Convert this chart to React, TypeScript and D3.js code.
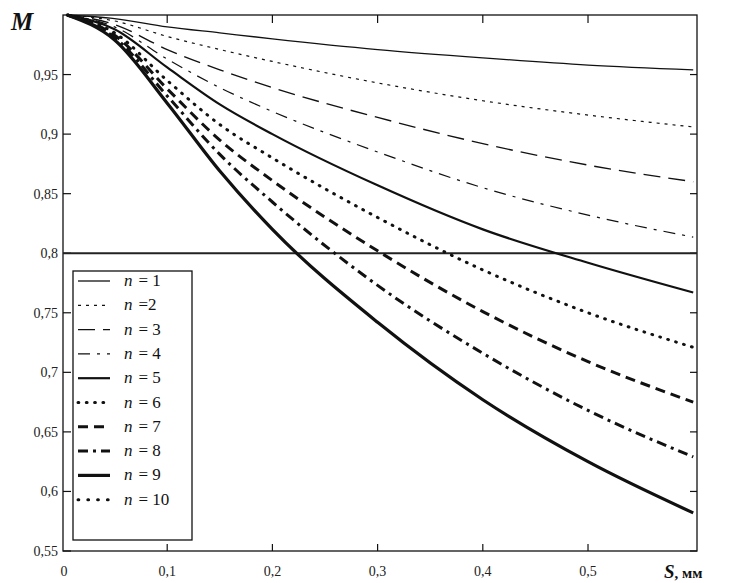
import React from "react";
import * as d3 from "d3";

const S = [0.005, 0.05, 0.1, 0.15, 0.2, 0.3, 0.4, 0.5, 0.6];
const M1 = [1, 0.997, 0.99, 0.985, 0.98, 0.971, 0.964, 0.958, 0.954];
const M2 = [1, 0.995, 0.982, 0.971, 0.961, 0.943, 0.928, 0.916, 0.906];
const M3 = [1, 0.992, 0.971, 0.954, 0.939, 0.914, 0.892, 0.874, 0.86];
const M4 = [1, 0.99, 0.963, 0.939, 0.919, 0.885, 0.855, 0.832, 0.8135];
const M5 = [1, 0.988, 0.956, 0.925, 0.9, 0.857, 0.82, 0.792, 0.767];
const M6 = [1, 0.985, 0.945, 0.908, 0.88, 0.83, 0.786, 0.75, 0.721];
const M7 = [1, 0.983, 0.938, 0.895, 0.861, 0.802, 0.751, 0.709, 0.675];
const M8 = [1, 0.981, 0.932, 0.883, 0.843, 0.773, 0.716, 0.668, 0.629];
const M9 = [1, 0.979, 0.926, 0.869, 0.82, 0.742, 0.677, 0.625, 0.582];

const SERIES = [M1, M2, M3, M4, M5, M6, M7, M8, M9];
const LEGEND_LABELS = ["= 1", "=2", "= 3", "= 4", "= 5", "= 6", "= 7", "= 8", "= 9", "= 10"];
const X_TICKS = [0, 0.1, 0.2, 0.3, 0.4, 0.5];
const Y_TICKS = [0.55, 0.6, 0.65, 0.7, 0.75, 0.8, 0.85, 0.9, 0.95];
const REF_LEVEL = 0.8;

const STYLES = [
  { w: 1.3, dash: "", cap: "butt" },
  { w: 1.2, dash: "3,5", cap: "butt" },
  { w: 1.4, dash: "17,8", cap: "butt" },
  { w: 1.2, dash: "12,7,3,7", cap: "butt" },
  { w: 2.2, dash: "", cap: "butt" },
  { w: 3, dash: "0.8,7.5", cap: "round" },
  { w: 3, dash: "10,6", cap: "butt" },
  { w: 3, dash: "10,5,3,5", cap: "butt" },
  { w: 3.2, dash: "", cap: "butt" },
  { w: 3, dash: "0.8,9", cap: "round" },
];

const fmt = (v: number) => (v === 0 ? "0" : String(+v.toFixed(2)).replace(".", ","));

export default function App() {
  const W = 729, H = 583;
  const x = d3.scaleLinear().domain([0, 0.6036]).range([62, 697]);
  const y = d3.scaleLinear().domain([0.55, 1.0]).range([551, 15]);
  const line = d3
    .line<number>()
    .x((_, i) => x(S[i]))
    .y((d) => y(d))
    .curve(d3.curveMonotoneX);

  const x0 = x(0) + 1, x1 = x(0.6036), yT = y(1.0), yB = y(0.55);
  const font = "'Liberation Serif', 'DejaVu Serif', serif";
  const legTop = 271, legLeft = 73, legRight = 192, legBottom = 540;

  return (
    <svg width={W} height={H} style={{ position: "absolute", left: 0, top: 0, background: "#fff" }} fontFamily={font}>
      <rect x={0} y={0} width={W} height={H} fill="#fff" />
      <rect x={x0} y={yT} width={x1 - x0} height={yB - yT} fill="none" stroke="#111" strokeWidth={1.3} />
      {Y_TICKS.map((t) => (
        <g key={"y" + t}>
          <line x1={x0} x2={x0 + 8} y1={y(t)} y2={y(t)} stroke="#111" strokeWidth={1.2} />
          <line x1={x1} x2={x1 - 7} y1={y(t)} y2={y(t)} stroke="#111" strokeWidth={1.2} />
          <text x={58} y={y(t) + 5} textAnchor="end" fontSize={14} fill="#222">
            {fmt(t)}
          </text>
        </g>
      ))}
      {X_TICKS.map((t) => (
        <g key={"x" + t}>
          {t > 0 && (
            <>
              <line x1={x(t)} x2={x(t)} y1={yB} y2={yB - 7} stroke="#111" strokeWidth={1.2} />
              <line x1={x(t)} x2={x(t)} y1={yT} y2={yT + 8} stroke="#111" strokeWidth={1.2} />
            </>
          )}
          <text x={x(t) + (t === 0 ? 2 : 0)} y={576} textAnchor="middle" fontSize={14} fill="#222">
            {fmt(t)}
          </text>
        </g>
      ))}
      <line x1={x0} x2={x1} y1={y(REF_LEVEL)} y2={y(REF_LEVEL)} stroke="#222" strokeWidth={2} />
      {SERIES.map((s, i) => (
        <path
          key={"c" + i}
          d={line(s) || ""}
          fill="none"
          stroke="#111"
          strokeWidth={STYLES[i].w}
          strokeDasharray={STYLES[i].dash || undefined}
          strokeLinecap={STYLES[i].cap as any}
        />
      ))}
      <rect x={legLeft} y={legTop} width={legRight - legLeft} height={legBottom - legTop} fill="#fff" stroke="#111" strokeWidth={1.3} />
      {LEGEND_LABELS.map((lab, i) => {
        const yy = 281 + i * 24.3;
        return (
          <g key={"l" + i}>
            <line
              x1={78}
              x2={110}
              y1={yy}
              y2={yy}
              stroke="#111"
              strokeWidth={STYLES[i].w}
              strokeDasharray={STYLES[i].dash || undefined}
              strokeLinecap={STYLES[i].cap as any}
            />
            <text x={124} y={yy + 5} fontSize={17} fill="#111">
              <tspan fontStyle="italic">n</tspan>
              <tspan dx={6}>{lab}</tspan>
            </text>
          </g>
        );
      })}
      <text x={11} y={30} fontSize={25} fontWeight="bold" fontStyle="italic" fill="#111">
        M
      </text>
      <text x={664} y={578} fill="#111" fontWeight="bold">
        <tspan fontSize={19} fontStyle="italic">S</tspan>
        <tspan fontSize={15}>, мм</tspan>
      </text>
    </svg>
  );
}
